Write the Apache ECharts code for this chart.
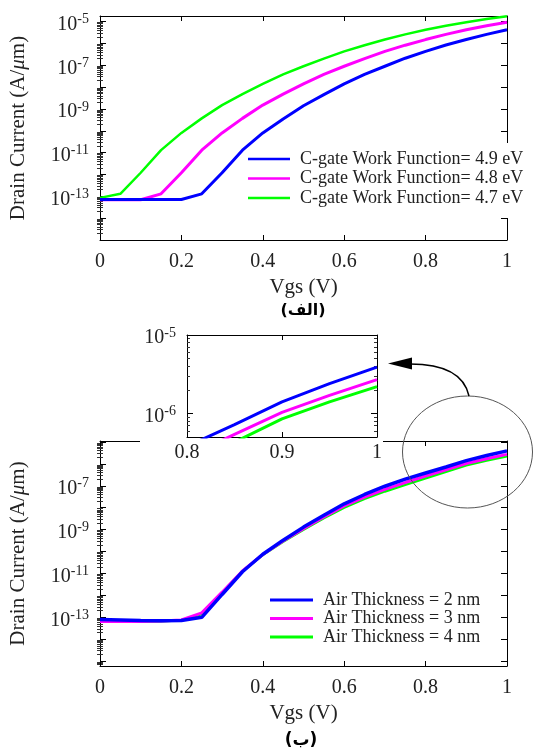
<!DOCTYPE html>
<html>
<head>
<meta charset="utf-8">
<script src="https://cdn.jsdelivr.net/npm/echarts@6/dist/echarts.min.js"></script>
<style>
html, body { margin: 0; padding: 0; background: #fff; }
#chart { width: 534px; height: 751px; }
</style>
</head>
<body>
<div id="chart"></div>
<script>
// Gate voltage sweep (V)
const vgs = [0, 0.05, 0.1, 0.15, 0.2, 0.25, 0.3, 0.35, 0.4, 0.45, 0.5,
             0.55, 0.6, 0.65, 0.7, 0.75, 0.8, 0.85, 0.9, 0.95, 1];

// (a) drain current for three control-gate work functions (A/um)
const wf49 = [7.2e-14, 7.2e-14, 7.2e-14, 7.2e-14, 7.2e-14, 1.3e-13, 1.2e-12, 1.3e-11, 8e-11, 3.5e-10, 1.4e-9,
              4.5e-9, 1.4e-8, 3.8e-8, 9e-8, 2.1e-7, 4.3e-7, 8.5e-7, 1.5e-6, 2.6e-6, 4.2e-6];
const wf48 = [7e-14, 7e-14, 7e-14, 1.3e-13, 1.2e-12, 1.3e-11, 8e-11, 3.7e-10, 1.5e-9, 4.8e-9, 1.4e-8,
              3.8e-8, 9e-8, 2e-7, 4.3e-7, 8.3e-7, 1.5e-6, 2.6e-6, 4.2e-6, 6.4e-6, 9.3e-6];
const wf47 = [8.5e-14, 1.3e-13, 1.2e-12, 1.3e-11, 8e-11, 3.7e-10, 1.5e-9, 4.8e-9, 1.4e-8, 3.8e-8, 9e-8,
              2e-7, 4.3e-7, 8.3e-7, 1.5e-6, 2.6e-6, 4.2e-6, 6.4e-6, 9.3e-6, 1.3e-5, 1.75e-5];

// (b) drain current for three air-gap thicknesses (A/um)
const air2 = [8e-14, 7.6e-14, 7.2e-14, 7e-14, 7.2e-14, 1e-13, 1.1e-12, 1.2e-11, 7.5e-11, 3.3e-10, 1.3e-9,
              4.5e-9, 1.5e-8, 4e-8, 9.5e-8, 2e-7, 3.8e-7, 7.2e-7, 1.4e-6, 2.4e-6, 3.9e-6];
const air3 = [6.5e-14, 6.5e-14, 6.5e-14, 6.7e-14, 7.5e-14, 1.6e-13, 1.4e-12, 1.3e-11, 7.3e-11, 3e-10, 1.1e-9,
              3.8e-9, 1.2e-8, 3e-8, 6.8e-8, 1.4e-7, 2.8e-7, 5.4e-7, 1.03e-6, 1.7e-6, 2.7e-6];
const air4 = [6.5e-14, 6.5e-14, 6.5e-14, 6.6e-14, 7.3e-14, 1.4e-13, 1.3e-12, 1.3e-11, 7e-11, 2.8e-10, 1e-9,
              3.3e-9, 1e-8, 2.5e-8, 5.5e-8, 1.1e-7, 2.2e-7, 4.3e-7, 8.5e-7, 1.4e-6, 2.2e-6];

// Tick labels
const xTicksMain = [0, 0.2, 0.4, 0.6, 0.8, 1];
const xTicksInset = [0.8, 0.9, 1];
const yLabelsTop = [1e-13, 1e-11, 1e-9, 1e-7, 1e-5];
const yLabelsBottom = [1e-13, 1e-11, 1e-9, 1e-7];
const yLabelsInset = [1e-6, 1e-5];

// Legend entries
const wfNames = ['C-gate Work Function= 4.9 eV', 'C-gate Work Function= 4.8 eV', 'C-gate Work Function= 4.7 eV'];
const airNames = ['Air Thickness = 2 nm', 'Air Thickness = 3 nm', 'Air Thickness = 4 nm'];
const panelTags = ['(الف)', '(ب)'];

const BLUE = '#0000FF', MAGENTA = '#FF00FF', GREEN = '#00FF00';
const SERIF = "'Liberation Serif','Times New Roman',serif";

const pairs = ys => vgs.map((v, i) => [v, ys[i]]);

function decades(lo, hi) {
  const out = [];
  for (let e = -18; e <= -2; e++) { const v = Math.pow(10, e); if (v >= lo * 0.999 && v <= hi * 1.001) out.push(v); }
  return out;
}
function minors(lo, hi) {
  const out = [];
  for (let e = -18; e <= -2; e++) for (let m = 2; m <= 9; m++) {
    const v = m * Math.pow(10, e); if (v > lo && v < hi) out.push(v);
  }
  return out;
}
const supLabel = v => '{b|10}{s|' + Math.round(Math.log10(v)) + '}';
const numLabel = v => String(+(+v).toFixed(2));

const xAxes = [], yAxes = [];
const black = { color: '#000', width: 1 };

function addX(grid, min, max, interval, ticks, opts) {
  const base = {
    gridIndex: grid, type: 'value', min, max, interval,
    axisLine: { show: true, onZero: false, lineStyle: black },
    axisTick: { inside: true, length: 5, lineStyle: black },
    splitLine: { show: false }
  };
  xAxes.push(Object.assign({}, base, {
    position: 'bottom',
    axisLabel: { customValues: ticks, formatter: numLabel, color: '#222', fontFamily: SERIF, fontSize: 20, margin: opts.margin },
    name: opts.name || '', nameLocation: 'middle', nameGap: opts.nameGap || 0,
    nameTextStyle: { fontFamily: SERIF, fontSize: 21, color: '#222' },
    z: opts.z || 0
  }));
  xAxes.push(Object.assign({}, base, { position: 'top', axisLabel: { show: false }, z: opts.z || 0 }));
  return xAxes.length - 2;
}

function addY(grid, min, max, labels, opts) {
  const base = {
    gridIndex: grid, type: 'log', logBase: 10, min, max,
    splitLine: { show: false }, z: opts.z || 0
  };
  const idx = yAxes.length;
  yAxes.push(Object.assign({}, base, {
    position: 'left',
    axisLine: { show: true, onZero: false, lineStyle: black },
    axisTick: { inside: true, length: 6, customValues: decades(min, max), lineStyle: black },
    axisLabel: {
      customValues: labels, formatter: supLabel, margin: 11, color: '#222',
      rich: {
        b: { fontFamily: SERIF, fontSize: 20, verticalAlign: 'bottom', padding: [6, 0, 0, 0], color: '#222' },
        s: { fontFamily: SERIF, fontSize: 14, verticalAlign: 'bottom', padding: [0, 0, 8, 0], color: '#222' }
      }
    },
    name: opts.name || '', nameLocation: 'middle', nameGap: opts.nameGap || 0,
    nameTextStyle: {
      fontFamily: SERIF, fontSize: 21, color: '#222',
      rich: { i: { fontFamily: SERIF, fontSize: 21, fontStyle: 'italic', color: '#222' } }
    }
  }));
  yAxes.push(Object.assign({}, base, {
    position: 'right',
    axisLine: { show: true, onZero: false, lineStyle: black },
    axisTick: { inside: true, length: 6, customValues: decades(min, max), lineStyle: black },
    axisLabel: { show: false }
  }));
  ['left', 'right'].forEach(pos => yAxes.push(Object.assign({}, base, {
    position: pos,
    axisLine: { show: false },
    axisTick: { inside: true, length: 3, customValues: minors(min, max), lineStyle: { color: '#333', width: 1 } },
    axisLabel: { show: false }
  })));
  return idx;
}

// grids: (a) top panel, (b) bottom panel, zoomed inset of (b)
const grids = [
  { left: 99, top: 16, width: 408, height: 224 },
  { left: 99, top: 441, width: 408, height: 225 },
  { left: 187, top: 335, width: 190, height: 102, z: 60 }
];

const xTop = addX(0, 0, 1, 0.2, xTicksMain, { margin: 12, name: 'Vgs (V)', nameGap: 37 });
const yTop = addY(0, 1e-15, 1.8e-5, yLabelsTop, { name: 'Drain Current (A/{i|μ}m)', nameGap: 71 });
const xBot = addX(1, 0, 1, 0.2, xTicksMain, { margin: 12, name: 'Vgs (V)', nameGap: 37 });
const yBot = addY(1, 6e-16, 1.1e-5, yLabelsBottom, { name: 'Drain Current (A/{i|μ}m)', nameGap: 71 });
const xIns = addX(2, 0.8, 1, 0.1, xTicksInset, { margin: 6, z: 60 });
const yIns = addY(2, 5e-7, 1e-5, yLabelsInset, { z: 60 });

function line(name, data, xi, yi, color, width, z) {
  return {
    type: 'line', name, data: pairs(data), xAxisIndex: xi, yAxisIndex: yi,
    showSymbol: false, symbol: 'none', smooth: false, clip: true, z: z || 2,
    color, lineStyle: { color, width }, emphasis: { disabled: true }
  };
}

const series = [
  line(wfNames[2], wf47, xTop, yTop, GREEN, 2.5),
  line(wfNames[1], wf48, xTop, yTop, MAGENTA, 3),
  line(wfNames[0], wf49, xTop, yTop, BLUE, 3),
  line(airNames[2], air4, xBot, yBot, GREEN, 2.5),
  line(airNames[1], air3, xBot, yBot, MAGENTA, 3),
  line(airNames[0], air2, xBot, yBot, BLUE, 3.5),
  line(airNames[2], air4, xIns, yIns, GREEN, 3, 62),
  line(airNames[1], air3, xIns, yIns, MAGENTA, 3, 62),
  line(airNames[0], air2, xIns, yIns, BLUE, 3, 62)
];

const legendText = { fontFamily: SERIF, fontSize: 18, color: '#222', lineHeight: 18, padding: [0, 0, 0, 5] };

const option = {
  animation: false,
  backgroundColor: '#fff',
  grid: grids,
  xAxis: xAxes,
  yAxis: yAxes,
  series,
  legend: [
    { data: wfNames, orient: 'vertical', left: 248, top: 150, icon: 'rect', itemWidth: 42, itemHeight: 2.5,
      itemGap: 1.5, textStyle: legendText, selectedMode: false, padding: 0 },
    { data: airNames, orient: 'vertical', left: 270, top: 591, icon: 'rect', itemWidth: 43, itemHeight: 3,
      itemGap: 0.5, textStyle: legendText, selectedMode: false, padding: 0 }
  ],
  graphic: [
    // the legend of panel (a) runs across the right frame; blank the frame behind it
    { type: 'rect', shape: { x: 498, y: 143, width: 16, height: 75 }, style: { fill: '#fff' }, z: 1 },
    // white backing for the inset so it hides the panel border beneath
    { type: 'rect', shape: { x: 140, y: 322, width: 243, height: 150 }, style: { fill: '#fff' }, z: 50 },
    { type: 'ellipse', shape: { cx: 467.5, cy: 452, rx: 65, ry: 56 },
      style: { fill: 'none', stroke: '#555', lineWidth: 1 }, z: 70 },
    { type: 'bezierCurve', shape: { x1: 469, y1: 396, cpx1: 462, cpy1: 364, x2: 410, y2: 364 },
      style: { fill: 'none', stroke: '#000', lineWidth: 1.5 }, z: 70 },
    { type: 'polygon', shape: { points: [[388, 363.5], [412, 357.5], [412, 369.5]] },
      style: { fill: '#000' }, z: 70 },
    { type: 'text', x: 303, y: 311,
      style: { text: panelTags[0], font: "bold 16px 'DejaVu Sans'", fill: '#000', textAlign: 'center', textVerticalAlign: 'middle' }, z: 70 },
    { type: 'text', x: 301, y: 741,
      style: { text: panelTags[1], font: "bold 17px 'DejaVu Sans'", fill: '#000', textAlign: 'center', textVerticalAlign: 'middle' }, z: 70 }
  ]
};

const chart = echarts.init(document.getElementById('chart'));
chart.setOption(option);
</script>
</body>
</html>
